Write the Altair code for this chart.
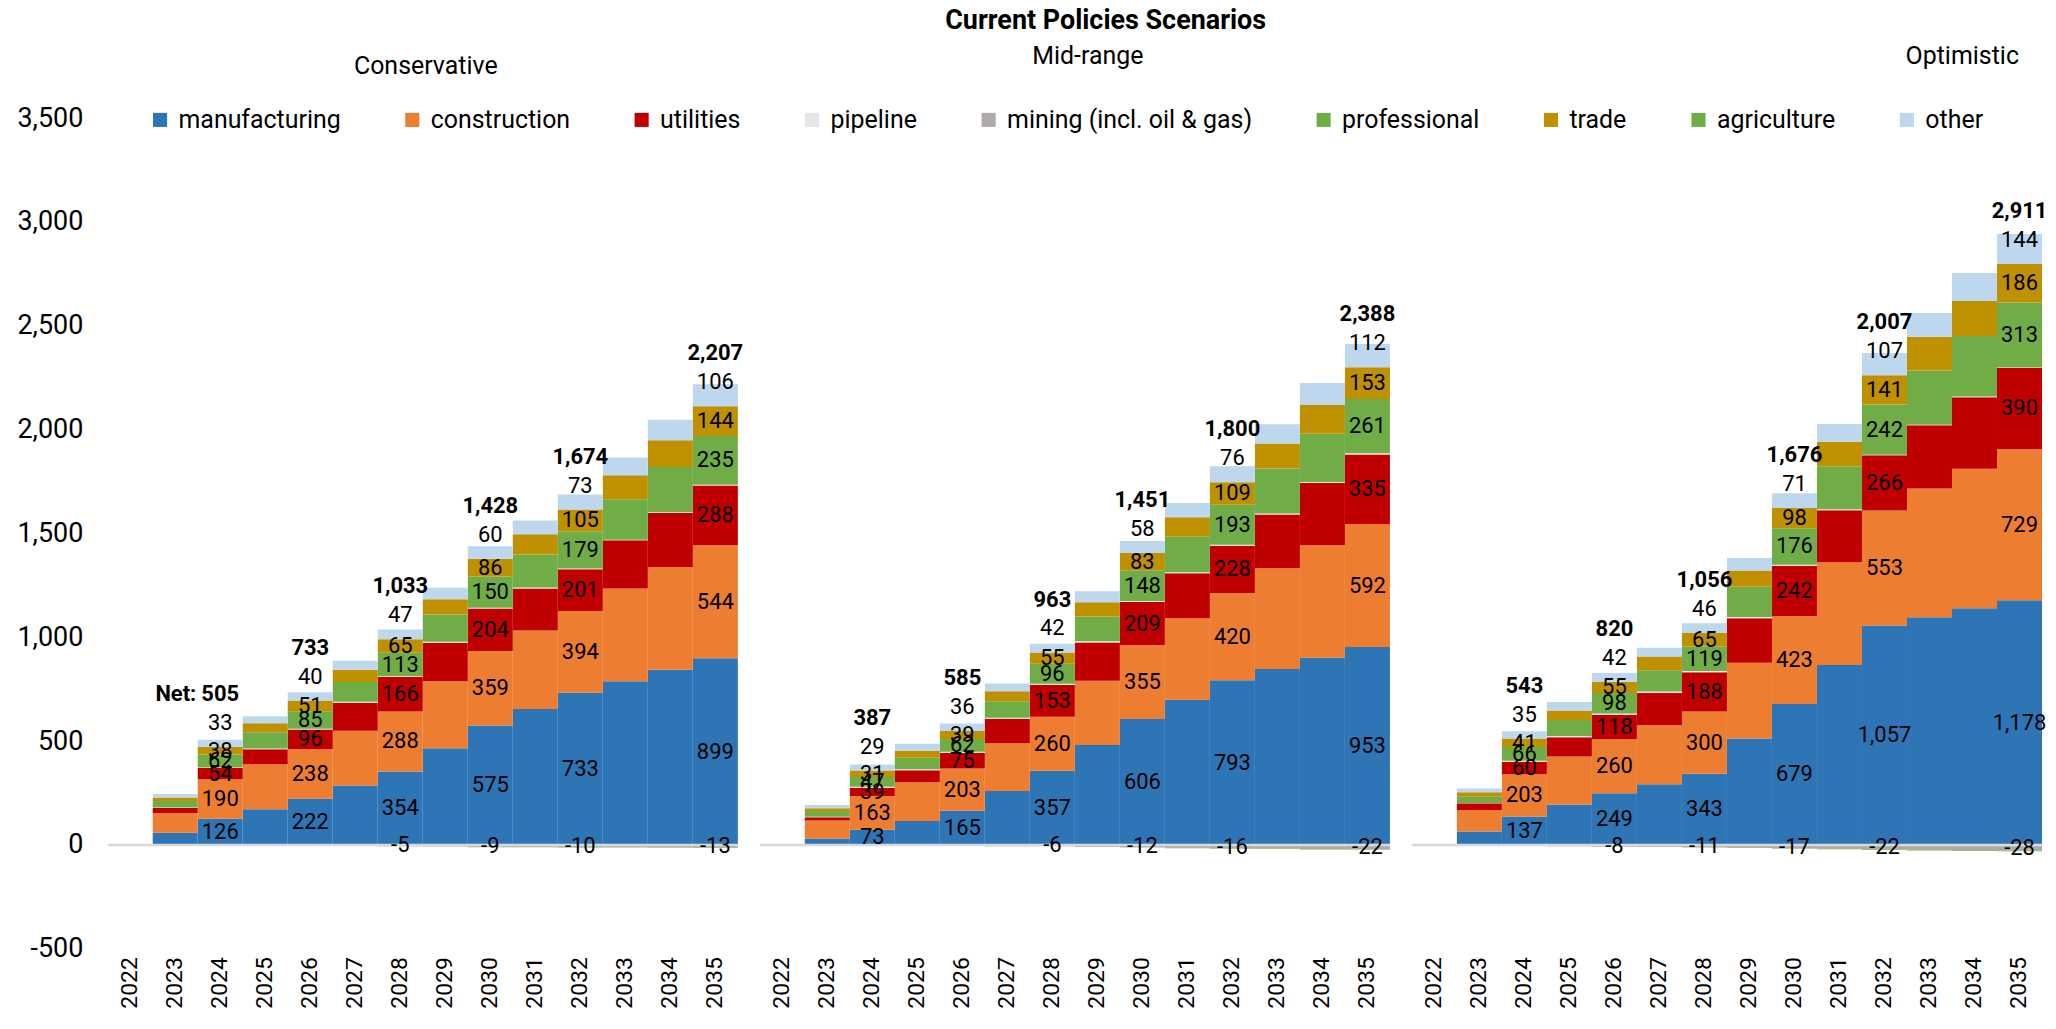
import altair as alt
import pandas as pd

FONT = "Roboto"
YEARS = [str(y) for y in range(2022, 2036)]
DATA_YEARS = [str(y) for y in range(2023, 2036)]
LABEL_YEARS = ["2024", "2026", "2028", "2030", "2032", "2035"]
SCENARIOS = ["Conservative", "Mid-range", "Optimistic"]
SERIES = ["manufacturing", "construction", "utilities", "pipeline",
          "mining (incl. oil & gas)", "professional", "trade", "agriculture", "other"]
COLORS = ["#2E75B6", "#ED7D31", "#C00000", "#E7E6E6", "#AEAAAA",
          "#70AD47", "#BF9000", "#70AD47", "#BDD7EE"]
LABELED = ["manufacturing", "construction", "utilities", "professional",
           "trade", "other", "mining (incl. oil & gas)"]
Y_TICKS = [-500, 0, 500, 1000, 1500, 2000, 2500, 3000, 3500]

# ---- Conservative (2023..2035)
cons_manufacturing = [58, 126, 172, 222, 286, 354, 466, 575, 654, 733, 788, 843, 899]
cons_construction = [95, 190, 216, 238, 264, 288, 322, 359, 378, 394, 447, 495, 544]
cons_utilities = [25, 54, 73, 96, 135, 166, 186, 204, 203, 201, 232, 262, 288]
cons_pipeline = [2, 3, 3, 3, 4, 4, 4, 4, 4, 3, 3, 3, 3]
cons_mining = [0, -1, -2, -3, -4, -5, -7, -9, -9, -10, -11, -12, -13]
cons_professional = [31, 62, 78, 85, 96, 113, 131, 150, 159, 179, 195, 217, 235]
cons_trade = [17, 38, 44, 51, 59, 65, 74, 86, 98, 105, 115, 129, 144]
cons_agriculture = [0, 0, -1, -1, -1, -1, -1, -2, -2, -2, -2, -2, -2]
cons_other = [17, 33, 34, 40, 43, 47, 55, 60, 66, 73, 86, 98, 106]
cons_net = [505, 733, 1033, 1428, 1674, 2207]

# ---- Mid-range
mid_manufacturing = [31, 73, 115, 165, 259, 357, 481, 606, 699, 793, 847, 901, 953]
mid_construction = [86, 163, 187, 203, 231, 260, 309, 355, 393, 420, 485, 542, 592]
mid_utilities = [16, 39, 57, 75, 117, 153, 185, 209, 216, 228, 259, 300, 335]
mid_pipeline = [2, 5, 5, 5, 5, 6, 6, 5, 5, 4, 5, 5, 6]
mid_mining = [0, -1, -3, -4, -5, -6, -9, -12, -14, -16, -18, -20, -22]
mid_professional = [28, 47, 56, 62, 80, 96, 119, 148, 173, 193, 217, 232, 261]
mid_trade = [13, 31, 33, 39, 48, 55, 69, 83, 92, 109, 120, 138, 153]
mid_agriculture = [0, 0, 0, -1, -1, -1, -1, -1, -2, -3, -2, -2, -2]
mid_other = [16, 29, 34, 36, 37, 42, 52, 58, 69, 76, 93, 106, 112]
mid_net = [387, 585, 963, 1451, 1800, 2388]

# ---- Optimistic
opt_manufacturing = [65, 137, 194, 249, 292, 343, 512, 679, 866, 1057, 1096, 1140, 1178]
opt_construction = [103, 203, 232, 260, 284, 300, 365, 423, 495, 553, 620, 672, 729]
opt_utilities = [32, 60, 92, 118, 157, 188, 215, 242, 251, 266, 305, 344, 390]
opt_pipeline = [2, 5, 6, 6, 6, 6, 5, 5, 4, 3, 3, 3, 2]
opt_mining = [0, -3, -5, -8, -9, -11, -14, -17, -19, -22, -24, -26, -28]
opt_professional = [30, 66, 78, 98, 102, 119, 146, 176, 207, 242, 261, 292, 313]
opt_trade = [22, 41, 45, 55, 66, 65, 79, 98, 118, 141, 162, 168, 186]
opt_agriculture = [0, 0, -1, -1, -1, -1, -1, -2, -2, -3, -3, -3, -3]
opt_other = [17, 35, 41, 42, 43, 46, 60, 71, 86, 107, 114, 135, 144]
opt_net = [543, 820, 1056, 1676, 2007, 2911]

TABLES = {
    "Conservative": ([cons_manufacturing, cons_construction, cons_utilities, cons_pipeline,
                      cons_mining, cons_professional, cons_trade, cons_agriculture, cons_other], cons_net),
    "Mid-range": ([mid_manufacturing, mid_construction, mid_utilities, mid_pipeline,
                   mid_mining, mid_professional, mid_trade, mid_agriculture, mid_other], mid_net),
    "Optimistic": ([opt_manufacturing, opt_construction, opt_utilities, opt_pipeline,
                    opt_mining, opt_professional, opt_trade, opt_agriculture, opt_other], opt_net),
}

rows = []
for scen in SCENARIOS:
    cols, nets = TABLES[scen]
    for k, s in enumerate(SERIES):
        for i, yr in enumerate(DATA_YEARS):
            v = cols[k][i]
            lab = (yr in LABEL_YEARS) and (s in LABELED) and (s != "mining (incl. oil & gas)" or v <= -5)
            net_txt = ""
            prefix = ""
            if s == "other" and yr in LABEL_YEARS:
                net_txt = f"{nets[LABEL_YEARS.index(yr)]:,}"
                if scen == "Conservative" and yr == "2024":
                    prefix = "Net:"
            rows.append(dict(scenario=scen, year=yr, series=s, ord=k, value=v,
                             lab=int(lab), txt=f"{v:,}", net=net_txt, prefix=prefix))
df = pd.DataFrame(rows)

PANEL_W = 632
PANEL_H = 833
Y_SCALE = alt.Scale(domain=[-500, 3500], nice=False, zero=False)
X_SCALE = alt.Scale(domain=YEARS, paddingInner=0, paddingOuter=0)


def panel(scen, first, tdx, tdy):
    d = df[df.scenario == scen]
    base = alt.Chart(d)
    x_axis = alt.Axis(title=None, labelAngle=270, labelFont=FONT, labelFontSize=23,
                      labelColor="#000000", labelPadding=8, ticks=False, domain=False,
                      grid=False)
    x = alt.X("year:O", scale=X_SCALE, axis=x_axis)
    if first:
        y_axis = alt.Axis(title=None, values=Y_TICKS,
                          labelFont=FONT, labelFontSize=27, labelColor="#000000",
                          labelPadding=25, ticks=False, domain=False, grid=False,
                          labelExpr="replace(format(datum.value, ','), '\u2212', '-')")
        legend = alt.Legend(title=None, orient="none", legendX=40, legendY=-11,
                            direction="horizontal", columns=9, symbolType="square",
                            symbolSize=200, symbolStrokeWidth=0, labelFont=FONT,
                            labelFontSize=25, labelColor="#000000", columnPadding=59,
                            labelOffset=6, padding=0, labelLimit=0)
    else:
        y_axis = None
        legend = None

    bars = base.mark_bar(strokeWidth=0).encode(
        x=x,
        y=alt.Y("value:Q", stack="zero", scale=Y_SCALE, axis=y_axis),
        color=alt.Color("series:N", scale=alt.Scale(domain=SERIES, range=COLORS), legend=legend),
        order=alt.Order("ord:Q", sort="ascending"),
    )

    zero = alt.Chart(pd.DataFrame({"z": [0]})).mark_rule(
        color="#D9D9D9", strokeWidth=2.5).encode(
        y=alt.Y("z:Q", scale=Y_SCALE, axis=y_axis))

    stacked = base.transform_stack(
        stack="value", groupby=["year"], sort=[alt.SortField("ord", order="ascending")],
        as_=["y0", "y1"], offset="zero"
    ).transform_calculate(mid="(datum.y0 + datum.y1) / 2")

    center = stacked.transform_filter(
        "datum.lab == 1 && datum.series != 'other'"
    ).mark_text(font=FONT, fontSize=22, color="#000000").encode(
        x=x, y=alt.Y("mid:Q", scale=Y_SCALE, axis=y_axis), text="txt:N")

    other_l = stacked.transform_filter(
        "datum.lab == 1 && datum.series == 'other'"
    ).mark_text(font=FONT, fontSize=22, color="#000000", dy=-24).encode(
        x=x, y=alt.Y("y0:Q", scale=Y_SCALE, axis=y_axis), text="txt:N")

    net_l = stacked.transform_filter(
        "datum.net != ''"
    ).mark_text(font=FONT, fontSize=22, fontWeight="bold", color="#000000", dy=-53).encode(
        x=x, y=alt.Y("y0:Q", scale=Y_SCALE, axis=y_axis), text="net:N")

    prefix_l = stacked.transform_filter(
        "datum.prefix != ''"
    ).mark_text(font=FONT, fontSize=22, fontWeight="bold", color="#000000", dy=-53,
                dx=-24, align="right").encode(
        x=x, y=alt.Y("y0:Q", scale=Y_SCALE, axis=y_axis), text="prefix:N")

    return alt.layer(bars, zero, center, other_l, net_l, prefix_l).properties(
        width=PANEL_W, height=PANEL_H,
        title=alt.TitleParams(scen, font=FONT, fontSize=25, fontWeight="normal",
                              color="#000000", anchor="middle", offset=49, dx=tdx, dy=tdy),
    )


p1 = panel("Conservative", True, 3, 24)
p2 = panel("Mid-range", False, 13, 0)
p3 = panel("Optimistic", False, 236, 0)

chart = alt.hconcat(p1, p2, p3, spacing=22, bounds="flush").properties(
    title=alt.TitleParams("Current Policies Scenarios", font=FONT, fontSize=27,
                          fontWeight="bold", color="#000000", anchor="start",
                          dx=931, offset=9),
    padding={"left": 8, "top": -2, "right": 0, "bottom": 0},
).resolve_scale(color="independent", y="independent", x="independent").resolve_legend(
    color="independent"
).configure_view(stroke=None)

chart.save("out.html", embed_options={"renderer": "svg", "actions": False})
